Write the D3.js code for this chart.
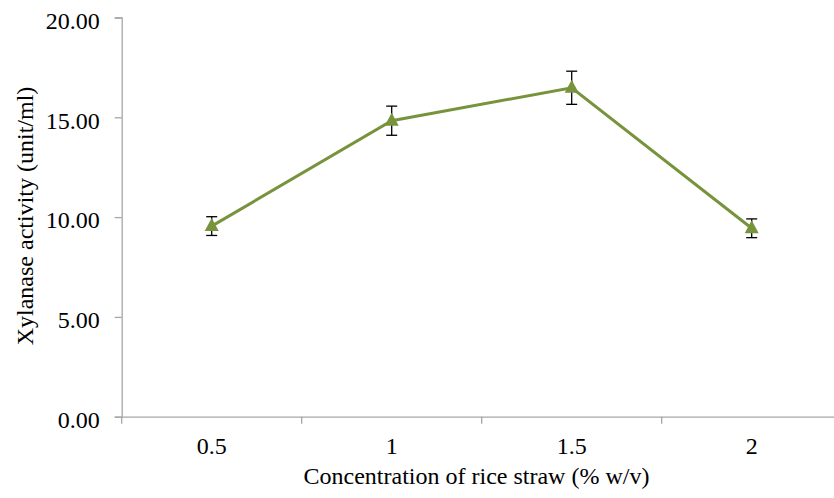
<!DOCTYPE html>
<html><head><meta charset="utf-8">
<script src="https://cdn.jsdelivr.net/npm/d3@7/dist/d3.min.js"></script>
<style>body{margin:0;background:#fff}svg{display:block}text{font-family:"Liberation Serif","Times New Roman",serif;fill:#000}</style>
</head><body>
<script>
const categories = ["0.5","1","1.5","2"];
const activity = [9.55, 14.83, 16.48, 9.44];
const errors = [0.47, 0.73, 0.83, 0.47];
const yTicks = [0,5,10,15,20];

const W=834,H=498;
const svg=d3.select("body").append("svg").attr("width",W).attr("height",H);
const mLeft=121.7, mRight=841.7, mTop=17.5, mBottom=416.7;
const x=d3.scaleBand().domain(categories).range([mLeft,mRight]);
const y=d3.scaleLinear().domain([0,20]).range([mBottom,mTop]);

const ya=svg.append("g").attr("transform",`translate(${mLeft},0)`)
  .call(d3.axisLeft(y).tickValues(yTicks).tickFormat(d3.format(".2f")).tickSize(7).tickPadding(15));
ya.selectAll("text").attr("dy","0.45em");
const xa=svg.append("g").attr("transform",`translate(0,${mBottom})`)
  .call(d3.axisBottom(x).tickSize(0).tickPadding(20));
[ya,xa].forEach(g=>{g.select(".domain").attr("stroke","#a6a6a6").attr("stroke-width",1.3);
  g.selectAll("line").attr("stroke","#a6a6a6").attr("stroke-width",1.3);
  g.selectAll("text").attr("font-size",24).attr("font-family","Liberation Serif");});
const bounds=categories.map(c=>x(c)).concat([x(categories[categories.length-1])+x.bandwidth()]);
svg.append("g").selectAll("line").data(bounds).join("line")
  .attr("x1",d=>d).attr("x2",d=>d).attr("y1",mBottom).attr("y2",mBottom+7)
  .attr("stroke","#a6a6a6").attr("stroke-width",1.3);

const cx=c=>x(c)+x.bandwidth()/2;
const data=categories.map((c,i)=>({c,v:activity[i],e:errors[i]}));
svg.append("path").datum(data).attr("fill","none").attr("stroke","#77933c").attr("stroke-width",3)
  .attr("d",d3.line().x(d=>cx(d.c)).y(d=>y(d.v)));
const eb=svg.append("g").attr("stroke","#000").attr("stroke-width",1.3);
data.forEach(d=>{
  const X=cx(d.c);
  eb.append("line").attr("x1",X).attr("x2",X).attr("y1",y(d.v+d.e)).attr("y2",y(d.v-d.e));
  eb.append("line").attr("x1",X-5.5).attr("x2",X+5.5).attr("y1",y(d.v+d.e)).attr("y2",y(d.v+d.e));
  eb.append("line").attr("x1",X-5.5).attr("x2",X+5.5).attr("y1",y(d.v-d.e)).attr("y2",y(d.v-d.e));
});
svg.append("g").selectAll("path").data(data).join("path")
  .attr("d","M0,-8L7,5L-7,5Z").attr("fill","#77933c")
  .attr("transform",d=>`translate(${cx(d.c)},${y(d.v)})`);

svg.append("text").attr("x",476.5).attr("y",484).attr("text-anchor","middle").attr("font-size",24)
  .text("Concentration of rice straw (% w/v)");
svg.append("text").attr("transform","translate(33,216) rotate(-90)").attr("text-anchor","middle").attr("font-size",24)
  .text("Xylanase activity (unit/ml)");
</script>
</body></html>
